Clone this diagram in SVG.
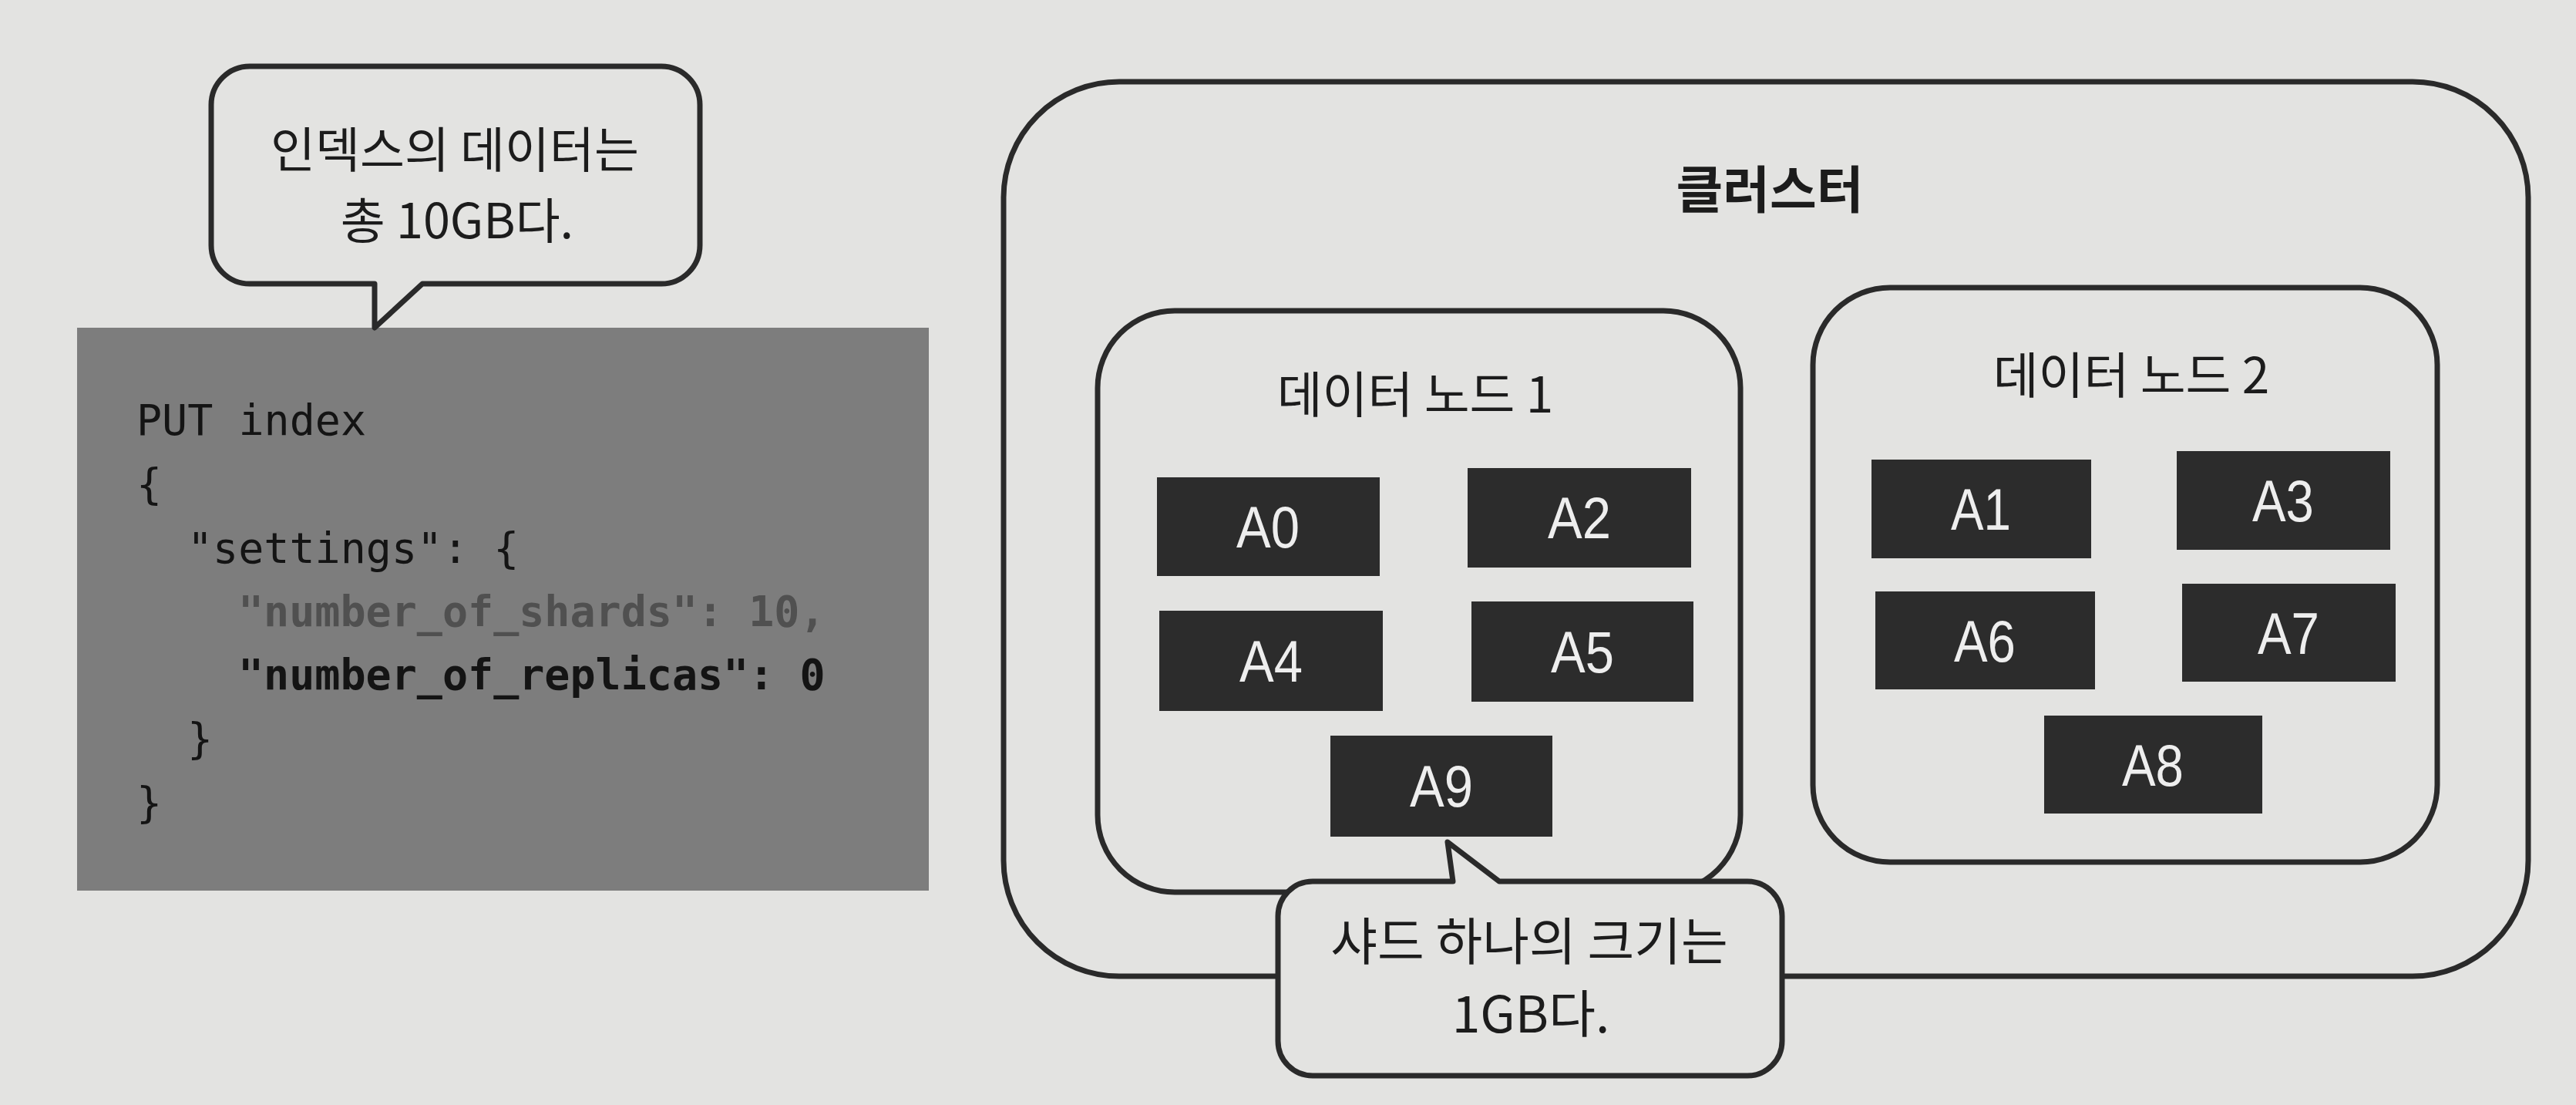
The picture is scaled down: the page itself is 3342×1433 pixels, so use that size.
<svg xmlns="http://www.w3.org/2000/svg" width="3342" height="1433" viewBox="0 0 3342 1433">
<style>
.box{fill:none;stroke:#2a2a2a;stroke-width:7}
.bubble{fill:#e3e3e1;stroke:#2a2a2a;stroke-width:7;stroke-linejoin:round}
.shard{fill:#2c2c2c}
.st{font-family:"Liberation Sans",Arial,sans-serif;font-size:76px;fill:#eeeeee;text-anchor:middle}
.kr{font-family:"Noto Sans CJK KR",sans-serif;font-size:66px;font-weight:400;fill:#1c1c1c;text-anchor:middle}
.title{font-weight:700}
.code{font-family:"DejaVu Sans Mono",monospace;font-size:55px;fill:#141414}
.hl{font-weight:700}
.dim{fill:#505050}
</style>
<rect width="3342" height="1433" fill="#e3e3e1"/>

<g id="code-block">
<rect x="100" y="425" width="1105" height="730" fill="#7d7d7d"/>
<text class="code" x="177" y="564">PUT index</text>
<text class="code" x="177" y="647">{</text>
<text class="code" x="243" y="730">"settings": {</text>
<text class="code hl dim" x="309" y="812">"number_of_shards": 10,</text>
<text class="code hl" x="309" y="894">"number_of_replicas": 0</text>
<text class="code" x="243" y="977">}</text>
<text class="code" x="177" y="1060">}</text>
</g>

<g id="bubble-index">
<path class="bubble" d="M324 86 H858 A50 50 0 0 1 908 136 V318 A50 50 0 0 1 858 368 H548 L486 425 L486 368 H324 A50 50 0 0 1 274 318 V136 A50 50 0 0 1 324 86 Z"/>
<text class="kr" x="590" y="217" style="font-size:63px">인덱스의 데이터는</text>
<text class="kr" x="593" y="309" style="font-size:63px">총 10GB다.</text>
</g>

<g id="cluster">
<rect class="box" x="1302" y="106" width="1978" height="1160" rx="150"/>
<text class="kr title" x="2296" y="270">클러스터</text>
</g>

<g id="data-node-1">
<rect class="box" x="1424" y="403" width="834" height="754" rx="100"/>
<text class="kr" x="1836" y="535" style="font-size:64px">데이터 노드 1</text>
</g>

<g id="data-node-2">
<rect class="box" x="2352" y="373" width="810" height="745" rx="100"/>
<text class="kr" x="2765" y="510" style="font-size:64px">데이터 노드 2</text>
</g>

<g id="shard-A0"><rect class="shard" x="1501" y="619" width="289" height="128"/><text class="st" x="1645" y="710" textLength="82" lengthAdjust="spacingAndGlyphs">A0</text></g>
<g id="shard-A2"><rect class="shard" x="1904" y="607" width="290" height="129"/><text class="st" x="2049" y="698" textLength="82" lengthAdjust="spacingAndGlyphs">A2</text></g>
<g id="shard-A4"><rect class="shard" x="1504" y="792" width="290" height="130"/><text class="st" x="1649" y="884" textLength="82" lengthAdjust="spacingAndGlyphs">A4</text></g>
<g id="shard-A5"><rect class="shard" x="1909" y="780" width="288" height="130"/><text class="st" x="2053" y="872" textLength="82" lengthAdjust="spacingAndGlyphs">A5</text></g>
<g id="shard-A9"><rect class="shard" x="1726" y="954" width="288" height="131"/><text class="st" x="1870" y="1046" textLength="82" lengthAdjust="spacingAndGlyphs">A9</text></g>
<g id="shard-A1"><rect class="shard" x="2428" y="596" width="285" height="128"/><text class="st" x="2570" y="687" textLength="78" lengthAdjust="spacingAndGlyphs">A1</text></g>
<g id="shard-A3"><rect class="shard" x="2824" y="585" width="277" height="128"/><text class="st" x="2962" y="676" textLength="80" lengthAdjust="spacingAndGlyphs">A3</text></g>
<g id="shard-A6"><rect class="shard" x="2433" y="767" width="285" height="127"/><text class="st" x="2575" y="858" textLength="80" lengthAdjust="spacingAndGlyphs">A6</text></g>
<g id="shard-A7"><rect class="shard" x="2831" y="757" width="277" height="127"/><text class="st" x="2969" y="848" textLength="80" lengthAdjust="spacingAndGlyphs">A7</text></g>
<g id="shard-A8"><rect class="shard" x="2652" y="928" width="283" height="127"/><text class="st" x="2793" y="1019" textLength="80" lengthAdjust="spacingAndGlyphs">A8</text></g>

<g id="connectors"></g>

<g id="bubble-shard">
<path class="bubble" d="M1703 1143 H1885 L1878 1092 L1945 1143 H2267 A45 45 0 0 1 2312 1188 V1350 A45 45 0 0 1 2267 1395 H1703 A45 45 0 0 1 1658 1350 V1188 A45 45 0 0 1 1703 1143 Z"/>
<text class="kr" x="1984" y="1245" style="font-size:66px">샤드 하나의 크기는</text>
<text class="kr" x="1986" y="1339" style="font-size:66px">1GB다.</text>
</g>
</svg>
